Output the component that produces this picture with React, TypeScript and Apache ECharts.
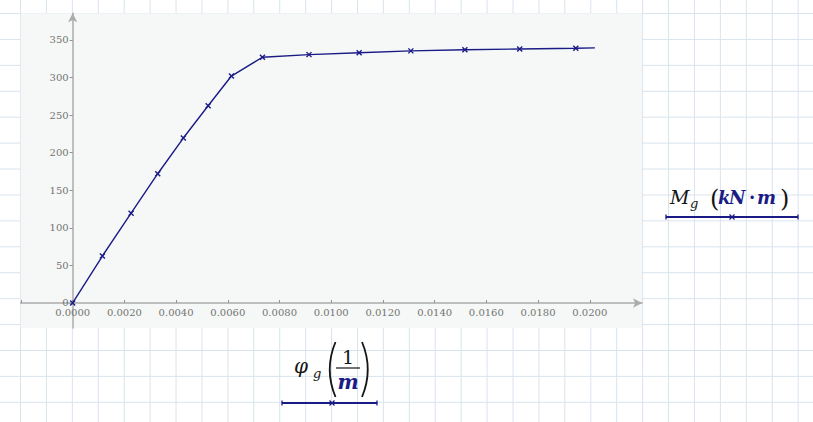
import React, { useEffect, useRef } from "react";
import * as echarts from "echarts";

// Curvature phi_g (1/m)
const phiValues = [0, 0.00115, 0.00226, 0.00329, 0.00428, 0.00524, 0.00614, 0.00734, 0.00914, 0.01108, 0.01308, 0.01517, 0.01729, 0.01946, 0.0202];
// Moment M_g (kN·m)
const momentValues = [0, 62.5, 119.5, 172, 219.5, 262.5, 302, 327, 330.5, 333, 335.5, 337, 338, 339, 339.5];
// which points carry a marker
const markerShown = [true, true, true, true, true, true, true, true, true, true, true, true, true, true, false];
const xTickValues = [0, 0.002, 0.004, 0.006, 0.008, 0.01, 0.012, 0.014, 0.016, 0.018, 0.02];
const yTickValues = [0, 50, 100, 150, 200, 250, 300, 350];

const NAVY = "#1b1b86";
const INK = "#151515";
const LABEL = "#737373";
const AXIS = "#ababab";
const SERIF = '"DejaVu Serif", "Liberation Serif", serif';

const GRID_LEFT = 20.7;
const GRID_TOP = 13.3;
const GRID_W = 621.3;
const GRID_H = 314.7;
const X_MIN = -0.00201;
const X_MAX = 0.02202;
const Y_MIN = -33.3;
const Y_MAX = 385.5;

function txt(text: string, x: number, y: number, size: number, opts: any = {}) {
  return {
    type: "text",
    x,
    y,
    silent: true,
    style: {
      text,
      fill: opts.fill || INK,
      fontFamily: SERIF,
      fontSize: size,
      fontStyle: opts.italic ? "italic" : "normal",
      fontWeight: opts.bold ? "bold" : "normal",
      align: opts.align || "left",
      textAlign: opts.align || "left",
      verticalAlign: "middle",
      textVerticalAlign: "middle",
    },
  };
}

function line(x1: number, y1: number, x2: number, y2: number, color: string, w: number) {
  return { type: "line", silent: true, shape: { x1, y1, x2, y2 }, style: { stroke: color, lineWidth: w } };
}

function legendBar(x1: number, x2: number, xm: number, y: number) {
  return [
    line(x1, y, x2, y, NAVY, 2),
    line(x1, y - 2.5, x1, y + 2.5, NAVY, 1.3),
    line(x2, y - 2.5, x2, y + 2.5, NAVY, 1.3),
    line(xm - 2.5, y - 2.5, xm + 2.5, y + 2.5, NAVY, 1.3),
    line(xm - 2.5, y + 2.5, xm + 2.5, y - 2.5, NAVY, 1.3),
  ];
}

export default function App() {
  const ref = useRef<HTMLDivElement>(null);

  useEffect(() => {
    if (!ref.current) return;
    const chart = echarts.init(ref.current, undefined, { renderer: "svg" });

    const data = phiValues.map((x, i) =>
      markerShown[i] ? { value: [x, momentValues[i]] } : { value: [x, momentValues[i]], symbol: "none" }
    );

    // place the axes through the origin (offset from the grid edges)
    const xAxisOffset = -((0 - Y_MIN) / (Y_MAX - Y_MIN)) * GRID_H;
    const yAxisOffset = -((0 - X_MIN) / (X_MAX - X_MIN)) * GRID_W;

    const graphic: any[] = [
      // legend for M_g (kN·m)
      txt("M", 670, 197, 19, { italic: true }),
      txt("g", 690, 203, 13, { italic: true }),
      txt("(", 710, 199, 24),
      txt("k", 718, 197.5, 18, { italic: true, bold: true, fill: NAVY }),
      txt("N", 729, 197.5, 18, { italic: true, bold: true, fill: NAVY }),
      txt("·", 749, 197.5, 18, { bold: true, fill: NAVY }),
      txt("m", 757, 197.5, 18, { italic: true, bold: true, fill: NAVY }),
      txt(")", 780, 199, 24),
      ...legendBar(666, 798, 732, 217),
      // legend for φ_g (1/m)
      txt("φ", 294, 366, 20, { italic: true }),
      txt("g", 313, 373, 13, { italic: true }),
      txt("1", 348, 356.5, 19, { align: "center" }),
      line(336, 368, 360, 368, INK, 1.2),
      txt("m", 348, 381.5, 20, { italic: true, bold: true, fill: NAVY, align: "center" }),
      {
        type: "bezierCurve",
        silent: true,
        shape: { x1: 335.5, y1: 342, x2: 335.5, y2: 397, cpx1: 324, cpy1: 369.5 },
        style: { stroke: INK, lineWidth: 1.8, fill: "none" },
      },
      {
        type: "bezierCurve",
        silent: true,
        shape: { x1: 362, y1: 342, x2: 362, y2: 397, cpx1: 373.5, cpy1: 369.5 },
        style: { stroke: INK, lineWidth: 1.8, fill: "none" },
      },
      ...legendBar(282, 377, 332, 403),
    ];

    chart.setOption({
      animation: false,
      backgroundColor: "transparent",
      grid: {
        left: GRID_LEFT,
        top: GRID_TOP,
        width: GRID_W,
        height: GRID_H,
        show: true,
        backgroundColor: "#f5f8f6",
        borderWidth: 0,
        containLabel: false,
        outerBoundsMode: "none",
      },
      xAxis: {
        type: "value",
        position: "bottom",
        offset: xAxisOffset,
        min: X_MIN,
        max: X_MAX,
        splitLine: { show: false },
        axisLine: {
          show: true,
          onZero: false,
          symbol: ["none", "arrow"],
          symbolSize: [7, 9],
          lineStyle: { color: AXIS, width: 1.5 },
        },
        axisTick: {
          show: true,
          inside: true,
          length: 3,
          customValues: [-0.002, ...xTickValues],
          lineStyle: { color: "#909090", width: 1 },
        },
        axisLabel: {
          show: true,
          customValues: xTickValues,
          margin: 5,
          color: LABEL,
          fontFamily: SERIF,
          fontSize: 10,
          formatter: (v: number) => (Math.abs(v) < 1e-9 ? 0 : v).toFixed(4),
        },
      },
      yAxis: {
        type: "value",
        position: "left",
        offset: yAxisOffset,
        min: Y_MIN,
        max: Y_MAX,
        splitLine: { show: false },
        axisLine: {
          show: true,
          onZero: false,
          symbol: ["none", "arrow"],
          symbolSize: [7, 9],
          lineStyle: { color: AXIS, width: 1.5 },
        },
        axisTick: {
          show: true,
          inside: false,
          length: 3,
          customValues: yTickValues,
          lineStyle: { color: "#909090", width: 1 },
        },
        axisLabel: {
          show: true,
          customValues: yTickValues,
          margin: 4,
          color: LABEL,
          fontFamily: SERIF,
          fontSize: 10,
          formatter: (v: number) => String(Math.round(v)),
        },
      },
      graphic,
      series: [
        {
          type: "line",
          data,
          symbol: "path://M0 0L10 10M10 0L0 10",
          symbolSize: 5,
          showSymbol: true,
          showAllSymbol: true,
          lineStyle: { color: NAVY, width: 1.4 },
          itemStyle: { color: NAVY, borderColor: NAVY, borderWidth: 1.4 },
          emphasis: { disabled: true },
        },
      ],
    });

    return () => chart.dispose();
  }, []);

  return (
    <div
      ref={ref}
      style={{
        position: "absolute",
        left: 0,
        top: 0,
        width: 813,
        height: 422,
        backgroundColor: "#ffffff",
        backgroundImage:
          "linear-gradient(to right, #d8e4ee 1px, transparent 1px), linear-gradient(to bottom, #d8e4ee 1px, transparent 1px)",
        backgroundSize: "25.93px 25.93px",
        backgroundPosition: "20px 13px",
      }}
    />
  );
}
